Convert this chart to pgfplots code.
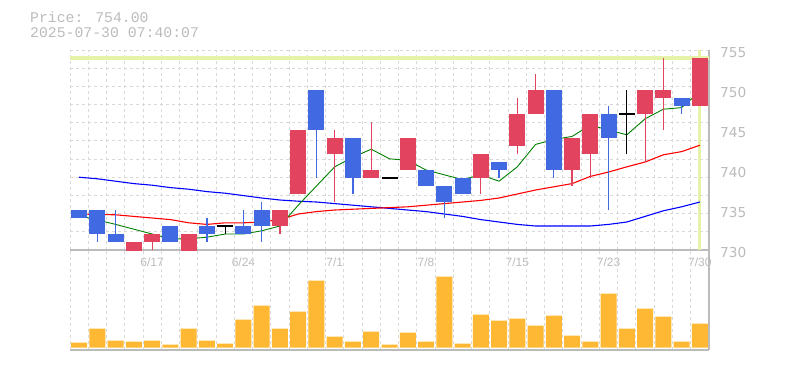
\documentclass[border=0pt]{standalone}
\usepackage{pgfplots}
\usepackage{pgfplotstable}
\pgfplotsset{compat=1.18}
\usepackage{fontspec}
\setmainfont{DejaVu Sans}
\newfontfamily\monofont{Liberation Mono}
\newfontfamily\arialfont{Liberation Sans}
\definecolor{cred}{HTML}{E2445F}
\definecolor{cblue}{HTML}{4169E1}
\definecolor{cvol}{HTML}{FFB833}
\definecolor{chl}{HTML}{E4F3A8}
\definecolor{ctxt}{HTML}{BBBBBB}
\definecolor{cspine}{HTML}{BBBBBB}
\definecolor{cgrid}{HTML}{D9D9D9}

% up candles (close > open)
\pgfplotstableread{
i O H L C
3 729.8 731 729.5 731
4 731 732 730 732
6 729.8 732 729.5 732
11 733 735 732 735
12 737 745 737 745
14 742 745 736 744
16 739 746 739 740
18 740 744 740 744
22 739 742 737 742
24 743 749 742 747
25 747 752 747 750
27 740 744 738 744
28 742 747 739 747
31 747 750 741 750
32 749 754 745 750
34 748 754 748 754
}\uptable

% down candles (close < open)
\pgfplotstableread{
i O H L C
0 735 735 734 734
1 735 735 731 732
2 732 735 731 731
5 733 733 731 731
7 733 734 731 732
9 733 735 732 732
10 735 736 731 733
13 750 750 739 745
15 744 744 737 739
19 740 740 738 738
20 738 738 734 736
21 739 739 737 737
23 741 741 739 740
26 750 750 739 740
29 747 748 735 744
33 749 749 747 748
}\downtable

% doji
\pgfplotstableread{
i O H L C
8 733 733 732 733
17 739 739 739 739
30 747 750 742 747
}\dojitable

% moving averages
\pgfplotstableread{
i G R B
0 734.3 734.5 739.1
1 733.75 734.45 738.9
2 733.2 734.4 738.6
3 732.6 734.2 738.3
4 732.0 734.0 738.1
5 731.4 733.8 737.8
6 731.4 733.4 737.6
7 731.6 733.2 737.3
8 732.0 733.4 737.1
9 732.0 733.4 736.8
10 732.4 733.5 736.5
11 733.0 733.8 736.25
12 735.6 734.5 736.1
13 738.0 734.8 736.0
14 740.4 735.0 735.8
15 741.6 735.1 735.6
16 742.6 735.2 735.4
17 741.4 735.3 735.2
18 741.2 735.4 735.0
19 740.0 735.6 734.8
20 739.4 735.8 734.5
21 738.8 736.0 734.2
22 739.4 736.2 733.8
23 738.6 736.5 733.5
24 740.4 737.0 733.2
25 743.2 737.5 733.0
26 743.8 737.9 733.0
27 744.2 738.3 733.0
28 745.6 739.2 733.0
29 745.0 739.75 733.2
30 744.4 740.4 733.5
31 746.4 741.0 734.2
32 747.6 741.9 734.9
33 747.8 742.3 735.4
34 749.8 743.1 736.0
}\matable

% volume (relative heights)
\pgfplotstableread{
i V
0 5
1 19
2 7
3 6
4 7
5 3
6 19
7 7
8 4
9 28
10 42
11 19
12 36
13 67
14 11
15 6
16 16
17 3
18 15
19 6
20 71
21 4
22 33
23 27
24 29
25 22
26 32
27 12
28 6
29 54
30 19
31 39
32 31
33 6
34 24
}\voltable

\pgfplotsset{
  basestyle/.style={
    scale only axis, width=639pt,
    xmin=-0.5, xmax=34.5,
    xtick={-0.5,0.5,...,34.5},
    xticklabels={},
    major tick length=0pt,
    xmajorgrids=true,
    major grid style={cgrid, dash pattern=on 3pt off 3pt, line width=1pt},
    axis x line*=bottom, axis y line*=right,
    axis line style={cspine, line width=1.3pt, -},
    tick style={draw=none},
  },
  candle/.style 2 args={only marks, mark=*, mark size=0pt, mark options={draw=none, fill=none}, forget plot,
    error bars/.cd, y dir=plus, y explicit, error mark=none,
    error bar style={line width=#1, #2}},
}

\begin{document}
\begin{tikzpicture}[x=1pt,y=1pt]
\begin{axis}[basestyle,
  at={(70pt,-250pt)}, anchor=south west, height=200pt,
  ymin=730, ymax=755,
  ytick={730,732.2727,734.5455,736.8182,739.0909,741.3636,743.6364,745.9091,748.1818,750.4545,752.7273,755},
  yticklabels={},
  ymajorgrids=true,
  extra y ticks={730,735,740,745,750,755},
  extra y tick labels={730,735,740,745,750,755},
  extra y tick style={grid=none},
  yticklabel style={font=\fontsize{13.7}{14}\selectfont, text=ctxt, anchor=west, inner sep=0pt, xshift=11pt, yshift=-2.5pt},
  extra x ticks={4,9,14,19,24,29,34},
  extra x tick labels={6/17,6/24,7/1,7/8,7/15,7/23,7/30},
  extra x tick style={grid=none},
  xticklabel style={font=\arialfont\fontsize{12}{13}\selectfont, text=ctxt, anchor=base, inner sep=0pt, yshift=-16.3pt},
  clip=true,
]
% highlight lines
\addplot[chl, line width=3.4pt, forget plot] coordinates {(-0.5,754) (34.5,754)};
\addplot[chl, line width=3pt, forget plot] coordinates {(34,730) (34,755)};
% moving averages
\addplot[blue, line width=1.1pt, mark=none] table[x=i,y=B]{\matable};
\addplot[red, line width=1.1pt, mark=none] table[x=i,y=R]{\matable};
\addplot[green!50!black, line width=0.9pt, mark=none] table[x=i,y=G]{\matable};
% wicks
\addplot[candle={1.2pt}{cred}]
  table[x=i, y=L, y error expr=\thisrow{H}-\thisrow{L}]{\uptable};
\addplot[candle={1.2pt}{cblue}]
  table[x=i, y=L, y error expr=\thisrow{H}-\thisrow{L}]{\downtable};
\addplot[candle={1.2pt}{black}]
  table[x=i, y=L, y error expr=\thisrow{H}-\thisrow{L}]{\dojitable};
% bodies
\addplot[candle={16pt}{cred}]
  table[x=i, y=O, y error expr=\thisrow{C}-\thisrow{O}]{\uptable};
\addplot[candle={16pt}{cblue}]
  table[x=i, y=C, y error expr=\thisrow{O}-\thisrow{C}]{\downtable};
\addplot[only marks, mark=-, mark size=8pt, black, line width=1.2pt, forget plot]
  table[x=i, y=C]{\dojitable};
\end{axis}

\begin{axis}[basestyle,
  at={(70pt,-350pt)}, anchor=south west, height=100pt,
  ymin=-2.3, ymax=97.7,
  ytick=\empty,
]
\addplot[ybar, bar width=16pt, fill=cvol, draw=none] table[x=i,y=V]{\voltable};
\end{axis}

\node[anchor=base west, inner sep=0pt, text=ctxt, font=\monofont\fontsize{14.8}{15}\selectfont] at (30pt,-22.7pt) {Price: 754.00};
\node[anchor=base west, inner sep=0pt, text=ctxt, font=\monofont\fontsize{14.8}{15}\selectfont] at (30pt,-37.3pt) {2025-07-30 07:40:07};

\pgfresetboundingbox
\path[use as bounding box] (0pt,0pt) rectangle (785pt,-370pt);
\end{tikzpicture}
\end{document}
